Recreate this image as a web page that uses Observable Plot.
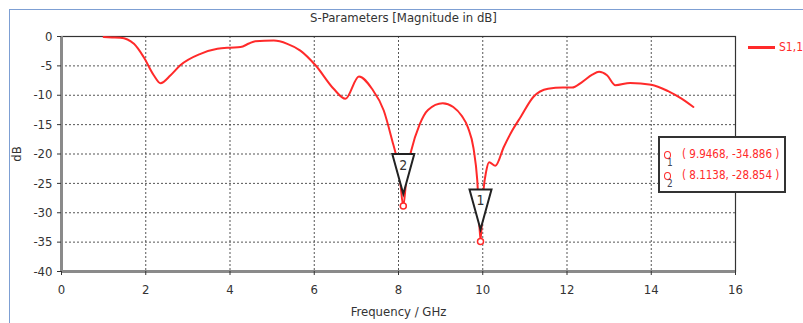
<!DOCTYPE html>
<html>
<head>
<meta charset="utf-8">
<script src="https://cdn.jsdelivr.net/npm/d3@7"></script>
<script src="https://cdn.jsdelivr.net/npm/@observablehq/plot@0.6"></script>
<style>
  html, body { margin: 0; padding: 0; background: #fff; }
  #wrap { position: relative; width: 803px; height: 323px; overflow: hidden;
          font-family: "Liberation Sans Narrow", "DejaVu Sans Condensed", sans-serif; }
  #outer { position: absolute; left: 9px; top: 9px; width: 900px; height: 400px;
           border-left: 1px solid #7d9fd3; border-top: 1px solid #7d9fd3; }
  #title { position: absolute; left: 0; width: 803px; top: 10px; text-align: center;
           font-size: 13px; color: #333; padding-left: 2px; }
  #legend { position: absolute; left: 748px; top: 40px; font-size: 12px; color: #ff2a2a; white-space: nowrap; }
  #legend .ln { display: inline-block; width: 27px; height: 3px; background: #ff2a2a;
                vertical-align: middle; margin-right: 4px; }
  #mbox { position: absolute; left: 658px; top: 136px; width: 124px; height: 53px;
          border: 2px solid #333; background: #fff; }
  .mrow { position: absolute; left: 4px; font-size: 11.5px; color: #ff2a2a; white-space: nowrap; }
  .mrow .c { display: inline-block; width: 5px; height: 6px; border: 1.5px solid #ff2a2a;
             border-radius: 50%; margin-right: 11px; vertical-align: middle; }
  .mrow .n { position: absolute; left: 3px; top: 10px; font-size: 10px; color: #445; }
  #chart { position: absolute; left: 0; top: 0; }
</style>
</head>
<body>
<div id="wrap">
  <div id="outer"></div>
  <div id="chart"></div>
  <div id="title"></div>
  <div id="legend"></div>
  <div id="mbox"></div>
</div>
<script>
// ---- data ----
const titleText = "S-Parameters [Magnitude in dB]";
const seriesName = "S1,1";
const xTicks = [0, 2, 4, 6, 8, 10, 12, 14, 16];
const yTicks = [0, -5, -10, -15, -20, -25, -30, -35, -40];

const freq = [1.0, 1.2, 1.4, 1.72, 1.95, 2.19, 2.35, 2.59, 2.82, 3.3, 3.7, 4.0, 4.25, 4.45, 4.6, 5.04, 5.36, 5.67, 6.03, 6.46, 6.74, 7.06, 7.37, 7.65, 7.85, 7.95, 8.03, 8.1138, 8.2, 8.3, 8.5, 8.7, 9.05, 9.3, 9.5, 9.65, 9.78, 9.87, 9.9468, 10.02, 10.08, 10.15, 10.3, 10.5, 10.7, 10.9, 11.2, 11.55, 11.9, 12.12, 12.35, 12.6, 12.76, 12.95, 13.15, 13.5, 14.0, 14.4, 14.7, 15.0];
const s11  = [-0.1, -0.15, -0.2, -1.25, -3.5, -6.6, -7.95, -6.6, -4.9, -2.95, -2.1, -1.9, -1.8, -1.2, -0.8, -0.7, -1.25, -2.4, -4.9, -8.9, -10.6, -6.8, -8.9, -12.6, -17.7, -20.5, -24.0, -28.854, -23.0, -19.5, -15.0, -12.5, -11.35, -12.0, -13.5, -15.5, -19.0, -24.5, -34.886, -26.0, -23.0, -21.4, -22.0, -18.8, -16.0, -13.7, -10.3, -8.9, -8.7, -8.7, -7.8, -6.5, -6.0, -6.6, -8.3, -7.9, -8.2, -9.3, -10.5, -12.0];

const markerIds = ["1", "2"];
const markerFreq = [9.9468, 8.1138];
const markerDb = [-34.886, -28.854];

// ---- build ----
const data = freq.map((f, i) => ({f, db: s11[i]}));
const markers = markerIds.map((id, i) => ({id, f: markerFreq[i], db: markerDb[i]}));

const tri = {
  draw(context) {
    const w = 11, top = -52, apex = -12;
    context.moveTo(-w, top);
    context.lineTo(w, top);
    context.lineTo(0, apex);
    context.closePath();
  }
};

const red = "#ff2a2a";
const fontFam = '"Liberation Sans Narrow", "DejaVu Sans Condensed", sans-serif';

const chart = Plot.plot({
  width: 803, height: 323,
  marginLeft: 61, marginRight: 68, marginTop: 36, marginBottom: 52,
  x: {domain: [0, 16]},
  y: {domain: [-40, 0]},
  style: {fontFamily: fontFam, fontSize: "13px", color: "#333", background: "transparent", overflow: "visible"},
  marks: [
    Plot.gridX(xTicks.filter(t => t > 0 && t < 16), {stroke: "#444", strokeOpacity: 0.9, strokeDasharray: "2,2"}),
    Plot.gridY(yTicks.filter(t => t > -40 && t < 0), {stroke: "#444", strokeOpacity: 0.9, strokeDasharray: "2,2"}),
    Plot.frame({stroke: "#333", strokeWidth: 1.2}),
    Plot.ruleX([0], {stroke: "#8a8a8a", strokeWidth: 3}),
    Plot.ruleY([-40], {stroke: "#8a8a8a", strokeWidth: 3}),
    Plot.axisX({ticks: xTicks, tickSize: 4, tickPadding: 9, tickFormat: d => String(d),
      label: "Frequency / GHz", labelAnchor: "center", labelArrow: "none", labelOffset: 44}),
    Plot.axisY({ticks: yTicks, tickSize: 4, tickPadding: 5, tickFormat: d => String(d),
      label: "dB", labelAnchor: "center", labelArrow: "none", labelOffset: 50}),
    Plot.line(data, {x: "f", y: "db", stroke: red, strokeWidth: 2, curve: "monotone-x"}),
    Plot.dot(markers, {x: "f", y: "db", symbol: tri, r: 5, stroke: "#222", fill: "white", strokeWidth: 2}),
    Plot.text(markers, {x: "f", y: "db", text: "id", dy: -41, fontSize: 14, fill: "#333"}),
    Plot.dot(markers, {x: "f", y: "db", r: 3, stroke: red, fill: "white", strokeWidth: 1.5})
  ]
});
document.getElementById("chart").appendChild(chart);

document.getElementById("title").textContent = titleText;
document.getElementById("legend").innerHTML = '<span class="ln"></span>' + seriesName;

const fmt = (f, d) => "( " + f.toFixed(4) + ", " + d.toFixed(3) + " )";
const box = document.getElementById("mbox");
markers.forEach((m, i) => {
  const row = document.createElement("div");
  row.className = "mrow";
  row.style.top = (9 + i * 21) + "px";
  row.innerHTML = '<span class="c"></span><span class="n">' + m.id + '</span>' + fmt(m.f, m.db);
  box.appendChild(row);
});
</script>
</body>
</html>
